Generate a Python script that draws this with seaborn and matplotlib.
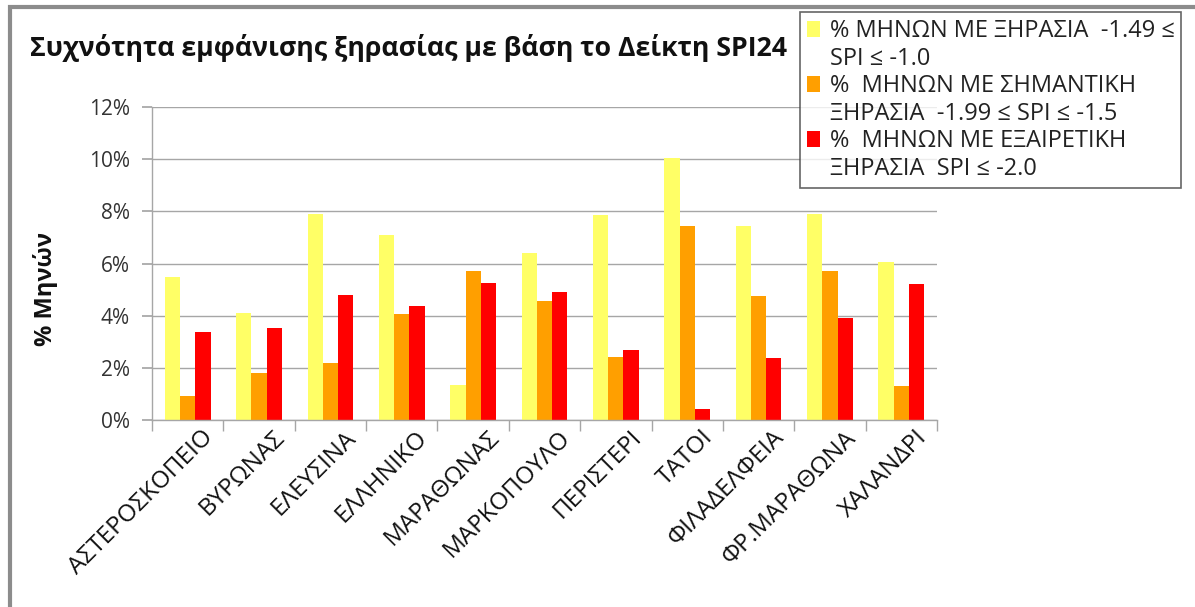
import matplotlib
matplotlib.use("Agg")
import matplotlib.pyplot as plt
import matplotlib.patches as mpatches
import matplotlib.transforms as mtransforms
from matplotlib.ticker import FixedLocator, PercentFormatter
import seaborn as sns
import pandas as pd

stations = ["ΑΣΤΕΡΟΣΚΟΠΕΙΟ", "ΒΥΡΩΝΑΣ", "ΕΛΕΥΣΙΝΑ", "ΕΛΛΗΝΙΚΟ", "ΜΑΡΑΘΩΝΑΣ",
            "ΜΑΡΚΟΠΟΥΛΟ", "ΠΕΡΙΣΤΕΡΙ", "ΤΑΤΟΙ", "ΦΙΛΑΔΕΛΦΕΙΑ", "ΦΡ.ΜΑΡΑΘΩΝΑ", "ΧΑΛΑΝΔΡΙ"]
moderate = [5.5, 4.1, 7.9, 7.1, 1.35, 6.4, 7.85, 10.05, 7.45, 7.9, 6.05]
severe = [0.92, 1.8, 2.2, 4.06, 5.7, 4.56, 2.43, 7.43, 4.74, 5.7, 1.29]
extreme = [3.37, 3.52, 4.79, 4.37, 5.24, 4.89, 2.7, 0.42, 2.39, 3.92, 5.2]

series_lines = [
    ["% ΜΗΝΩΝ ΜΕ ΞΗΡΑΣΙΑ  -1.49 ≤", "SPI ≤ -1.0"],
    ["%  ΜΗΝΩΝ ΜΕ ΣΗΜΑΝΤΙΚΗ", "ΞΗΡΑΣΙΑ  -1.99 ≤ SPI ≤ -1.5"],
    ["%  ΜΗΝΩΝ ΜΕ ΕΞΑΙΡΕΤΙΚΗ", "ΞΗΡΑΣΙΑ  SPI ≤ -2.0"],
]
series_names = ["moderate", "severe", "extreme"]
colors = ["#FFFF66", "#FF9F00", "#FF0000"]

rows = []
for name, vals in zip(series_names, [moderate, severe, extreme]):
    for st, v in zip(stations, vals):
        rows.append({"station": st, "series": name, "value": v})
df = pd.DataFrame(rows)

sns.set_theme(style="white")
plt.rcParams["font.family"] = ["Open Sans", "DejaVu Sans"]

W, H = 1195, 607
fig = plt.figure(figsize=(W / 100, H / 100), dpi=100)
ax = fig.add_axes([152 / W, 1 - 420 / H, (937 - 152) / W, (420 - 107) / H])

sns.barplot(data=df, x="station", y="value", hue="series", order=stations,
            hue_order=series_names, palette=colors, width=0.64,
            saturation=1, ax=ax, legend=False, linewidth=0, edgecolor="none")

ax.set_ylim(0, 12)
ax.set_xlim(-0.5, len(stations) - 0.5)
ax.yaxis.set_major_locator(FixedLocator([0, 2, 4, 6, 8, 10, 12]))
ax.yaxis.set_major_formatter(PercentFormatter(decimals=0))
ax.grid(axis="y", color="#a6a6a6", linewidth=1.0)
ax.set_axisbelow(True)
for s in ["top", "right"]:
    ax.spines[s].set_visible(False)
for s in ["left", "bottom"]:
    ax.spines[s].set_color("#a6a6a6")
    ax.spines[s].set_linewidth(1.0)

ax.tick_params(axis="y", which="major", left=True, length=7, color="#a6a6a6",
               labelsize=15, labelcolor="#333333", pad=9)
ax.set_xticks(range(len(stations)))
ax.set_xticklabels(stations, rotation=45, ha="right", va="top",
                   rotation_mode="anchor", fontsize=17.5, color="#111111")
ax.tick_params(axis="x", which="major", length=0, pad=4)
shift = mtransforms.ScaledTranslation(14 / 100, 0, fig.dpi_scale_trans)
for lbl in ax.get_xticklabels():
    lbl.set_transform(lbl.get_transform() + shift)
ax.set_xticks([i - 0.5 for i in range(len(stations) + 1)], minor=True)
ax.tick_params(axis="x", which="minor", bottom=True, length=8, color="#a6a6a6")

ax.set_xlabel("")
ax.set_ylabel("% Μηνών", fontsize=17, fontweight="bold", color="#111111")
ax.yaxis.set_label_coords((58 - 152) / 785, (420 - 289) / 313)

fig.text(30 / W, 1 - 48 / H, "Συχνότητα εμφάνισης ξηρασίας με βάση το Δείκτη SPI24",
         fontsize=19.2, fontweight="bold", ha="left", va="center", color="#111111")

# outer frame
frame = mpatches.Rectangle((10 / W, -0.1), 1.2, 1 - 7 / H + 0.1, transform=fig.transFigure,
                           fill=False, edgecolor="#8c8c8c", linewidth=3, zorder=0)
fig.patches.append(frame)

handles, labels = [], []
for c, lines in zip(colors, series_lines):
    handles.append(mpatches.Patch(facecolor=c, edgecolor="none"))
    labels.append(lines[0])
    handles.append(mpatches.Patch(facecolor="none", edgecolor="none"))
    labels.append(lines[1])
leg = fig.legend(handles, labels, loc="upper left",
                 bbox_to_anchor=(800 / W, 1 - 12 / H), frameon=True,
                 fontsize=17, handlelength=0.55, handleheight=0.7,
                 handletextpad=0.4, labelspacing=0.15, borderpad=0.3,
                 borderaxespad=0, fancybox=False)
leg.get_frame().set_edgecolor("#404040")
leg.get_frame().set_linewidth(1.2)
for t in leg.get_texts():
    t.set_color("#222222")

fig.savefig("out.png", dpi=100, facecolor="white")
